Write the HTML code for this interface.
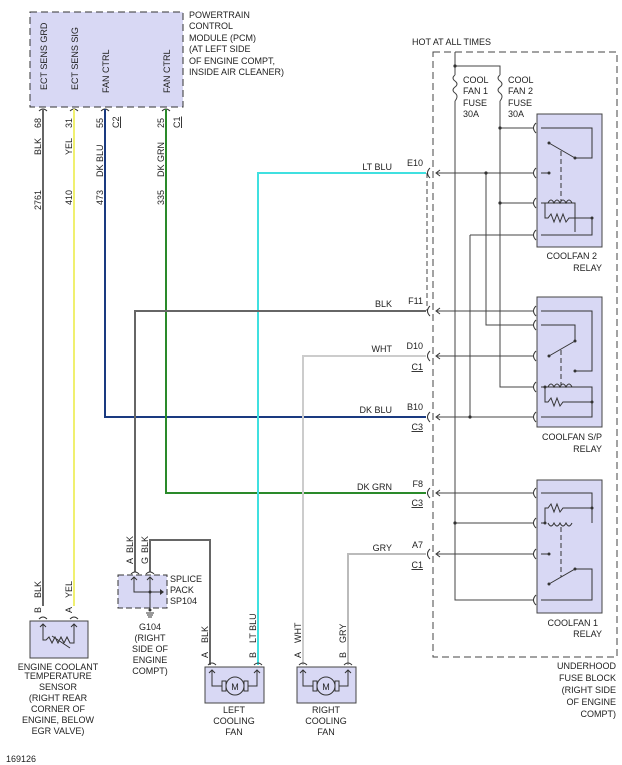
<!DOCTYPE html>
<html><head><style>
html,body{margin:0;padding:0;background:#fff}
svg{display:block}
text{font-family:"Liberation Sans",sans-serif;font-size:9px;fill:#222}
</style></head><body>
<svg width="622" height="765" viewBox="0 0 622 765" xmlns="http://www.w3.org/2000/svg">
<!-- PCM -->
<rect x="30" y="12" width="153" height="95" fill="#d8d8f4" stroke="#333" stroke-dasharray="7,4"/>
<g transform="rotate(-90)">
<text x="-90" y="47">ECT SENS GRD</text>
<text x="-90" y="78">ECT SENS SIG</text>
<text x="-93" y="109">FAN CTRL</text>
<text x="-93" y="170">FAN CTRL</text>
</g>
<text x="189" y="18">POWERTRAIN</text>
<text x="189" y="29">CONTROL</text>
<text x="189" y="41">MODULE (PCM)</text>
<text x="189" y="52">(AT LEFT SIDE</text>
<text x="189" y="64">OF ENGINE COMPT,</text>
<text x="189" y="75">INSIDE AIR CLEANER)</text>
<g fill="none" stroke="#333" stroke-width="1">
<path d="M39,111 q4,-4 8,0 M70,111 q4,-4 8,0 M101,111 q4,-4 8,0 M162,111 q4,-4 8,0"/>
</g>
<!-- wires -->
<g fill="none" stroke-width="2">
<path d="M43,109 V606" stroke="#666"/>
<path d="M74,109 V606" stroke="#f0f070"/>
<path d="M105,109 V417 H426" stroke="#1a3a80"/>
<path d="M166,109 V493 H426" stroke="#2a8a2a"/>
<path d="M258,665 V173 H426" stroke="#40e0e0"/>
<path d="M135,572 V311 H426" stroke="#666"/>
<path d="M303,665 V356 H426" stroke="#ccc"/>
<path d="M348,665 V554 H426" stroke="#bbb"/>
<path d="M150,572 V540 H210 V665" stroke="#666"/>
</g>
<!-- wire labels vertical -->
<g transform="rotate(-90)">
<text x="-128" y="41">68</text><text x="-128" y="72">31</text><text x="-128" y="103">55</text><text x="-128" y="164">25</text>
<text x="-128" y="119" text-decoration="underline">C2</text><text x="-128" y="180" text-decoration="underline">C1</text>
<text x="-155" y="41">BLK</text><text x="-155" y="72">YEL</text><text x="-177" y="103">DK BLU</text><text x="-177" y="164">DK GRN</text>
<text x="-210" y="41">2761</text><text x="-205" y="72">410</text><text x="-205" y="103">473</text><text x="-205" y="164">335</text>
<text x="-613" y="41">B</text><text x="-598" y="41">BLK</text>
<text x="-613" y="72">A</text><text x="-598" y="72">YEL</text>
<text x="-564" y="133">A</text><text x="-553" y="133">BLK</text>
<text x="-564" y="148">G</text><text x="-553" y="148">BLK</text>
<text x="-658" y="208">A</text><text x="-643" y="208">BLK</text>
<text x="-658" y="256">B</text><text x="-643" y="256">LT BLU</text>
<text x="-658" y="301">A</text><text x="-643" y="301">WHT</text>
<text x="-658" y="346">B</text><text x="-643" y="346">GRY</text>
</g>
<!-- right-side connector labels -->
<g text-anchor="end">
<text x="392" y="170">LT BLU</text><text x="423" y="166">E10</text>
<text x="392" y="307">BLK</text><text x="423" y="304">F11</text>
<text x="392" y="352">WHT</text><text x="423" y="349">D10</text><text x="423" y="370" text-decoration="underline">C1</text>
<text x="392" y="413">DK BLU</text><text x="423" y="410">B10</text><text x="423" y="430" text-decoration="underline">C3</text>
<text x="392" y="490">DK GRN</text><text x="423" y="487">F8</text><text x="423" y="506" text-decoration="underline">C3</text>
<text x="392" y="551">GRY</text><text x="423" y="548">A7</text><text x="423" y="568" text-decoration="underline">C1</text>
</g>
<!-- fuse block -->
<rect x="433" y="52" width="184" height="605" fill="none" stroke="#444" stroke-dasharray="7,4"/>
<text x="412" y="45">HOT AT ALL TIMES</text>
<path d="M427,173 V311" stroke="#444" stroke-dasharray="5,3" fill="none"/>
<g fill="none" stroke="#333">
<path d="M430,168 q-5,5 0,10 M430,306 q-5,5 0,10 M430,351 q-5,5 0,10 M430,412 q-5,5 0,10 M430,488 q-5,5 0,10 M430,549 q-5,5 0,10"/>
<path d="M440,170 l-4,3 l4,3 M440,308 l-4,3 l4,3 M440,353 l-4,3 l4,3 M440,414 l-4,3 l4,3 M440,490 l-4,3 l4,3 M440,551 l-4,3 l4,3"/>
</g>
<!-- internal wiring -->
<g fill="none" stroke="#444" stroke-width="1">
<path d="M455,52 V75 M455,101 V600 H533"/>
<path d="M455,66 H500 V75 M500,101 V387 H533"/>
<path d="M455,75 q-4,3 0,6 q4,3 0,6 q-4,3 0,6 q4,3 0,8"/>
<path d="M500,75 q-4,3 0,6 q4,3 0,6 q-4,3 0,6 q4,3 0,8"/>
<path d="M500,128 H533 M500,203 H533"/>
<path d="M436,173 H533 M486,173 V325 H533"/>
<path d="M470,235 H533 M470,235 V417"/>
<path d="M436,311 H533 M436,356 H533 M436,417 H533"/>
<path d="M436,493 H533 M455,523 H533 M436,554 H533"/>
</g>
<g fill="#333">
<circle cx="455" cy="66" r="1.6"/><circle cx="500" cy="128" r="1.6"/><circle cx="486" cy="173" r="1.6"/>
<circle cx="500" cy="203" r="1.6"/><circle cx="470" cy="417" r="1.6"/><circle cx="455" cy="523" r="1.6"/>
</g>
<text x="463" y="83">COOL</text><text x="463" y="94">FAN 1</text><text x="463" y="106">FUSE</text><text x="463" y="117">30A</text>
<text x="508" y="83">COOL</text><text x="508" y="94">FAN 2</text><text x="508" y="106">FUSE</text><text x="508" y="117">30A</text>
<!-- relays -->
<g fill="#d8d8f4" stroke="#444">
<rect x="537" y="114" width="65" height="133"/>
<rect x="537" y="297" width="65" height="130"/>
<rect x="537" y="480" width="65" height="133"/>
</g>
<g fill="none" stroke="#333">
<path d="M536,123 q-5,5 0,10 M536,168 q-5,5 0,10 M536,198 q-5,5 0,10 M536,230 q-5,5 0,10"/>
<path d="M536,306 q-5,5 0,10 M536,320 q-5,5 0,10 M536,351 q-5,5 0,10 M536,382 q-5,5 0,10 M536,412 q-5,5 0,10"/>
<path d="M536,488 q-5,5 0,10 M536,518 q-5,5 0,10 M536,549 q-5,5 0,10 M536,595 q-5,5 0,10"/>
<path d="M541,128 H592 V158 H575 M549,143 L575,158 M541,173 H549 M541,203 H575 V232 M545,203 V218 H548 l3,-4 3,8 3,-8 3,8 3,-8 3,8 3,-4 H592 V235 H541 M548,203 q3,-6 6,0 q3,-6 6,0 q3,-6 6,0 q3,-6 6,0"/>
<path d="M561,151 V201" stroke-dasharray="5,3"/>
<path d="M541,311 H592 V371 H575 M541,325 H575 V341 M549,356 L575,341 M541,387 H592 V417 H541 M545,387 V402 H548 l3,-4 3,8 3,-8 3,8 3,-4 H592 M548,387 q3,-6 6,0 q3,-6 6,0 q3,-6 6,0 q3,-6 6,0"/>
<path d="M561,350 V385" stroke-dasharray="5,3"/>
<path d="M541,493 H592 V523 M545,523 V508 H548 l3,-4 3,8 3,-8 3,8 3,-4 H592 M541,523 H545 M548,523 q3,6 6,0 q3,6 6,0 q3,6 6,0 q3,6 6,0 M541,554 H549 M549,584 L575,569 H592 V600 H541"/>
<path d="M561,527 V577" stroke-dasharray="5,3"/>
</g>
<g fill="#333"><circle cx="549" cy="143" r="1.5"/><circle cx="575" cy="158" r="1.5"/><circle cx="549" cy="173" r="1.5"/><circle cx="592" cy="218" r="1.5"/>
<circle cx="575" cy="341" r="1.5"/><circle cx="549" cy="356" r="1.5"/><circle cx="575" cy="371" r="1.5"/><circle cx="545" cy="387" r="1.5"/><circle cx="592" cy="402" r="1.5"/>
<circle cx="592" cy="508" r="1.5"/><circle cx="545" cy="523" r="1.5"/><circle cx="549" cy="554" r="1.5"/><circle cx="549" cy="584" r="1.5"/><circle cx="575" cy="569" r="1.5"/></g>
<g text-anchor="end">
<text x="597" y="259">COOLFAN 2</text><text x="602" y="271">RELAY</text>
<text x="602" y="440">COOLFAN S/P</text><text x="602" y="452">RELAY</text>
<text x="598" y="626">COOLFAN 1</text><text x="602" y="637">RELAY</text>
<text x="616" y="669">UNDERHOOD</text><text x="616" y="681">FUSE BLOCK</text><text x="616" y="693">(RIGHT SIDE</text><text x="616" y="705">OF ENGINE</text><text x="616" y="717">COMPT)</text>
</g>
<!-- ECT sensor -->
<rect x="30" y="621" width="58" height="37" fill="#d8d8f4" stroke="#444"/>
<g fill="none" stroke="#333"><path d="M39,619 q4,-4 8,0 M70,619 q4,-4 8,0 M43,624 V640 H46 l3,-3 3,6 3,-6 3,6 3,-6 3,6 3,-6 3,6 H74 V624 M40,627 l3,-3 3,3 M71,627 l3,-3 3,3 M52,636 L70,648"/></g>
<g text-anchor="middle">
<text x="58" y="670">ENGINE COOLANT</text><text x="58" y="679">TEMPERATURE</text><text x="58" y="690">SENSOR</text>
<text x="58" y="701">(RIGHT REAR</text><text x="58" y="712">CORNER OF</text><text x="58" y="723">ENGINE, BELOW</text><text x="58" y="734">EGR VALVE)</text>
</g>
<text x="6" y="762">169126</text>
<!-- splice -->
<rect x="118" y="575" width="49" height="33" fill="#d8d8f4" stroke="#333" stroke-dasharray="6,3"/>
<g fill="none" stroke="#333"><path d="M131,574 q4,-4 8,0 M146,574 q4,-4 8,0 M134,577 V592 H160 M150,577 V610 M131,580 l3,-3 3,3 M147,580 l3,-3 3,3 M146,613 H154 M147,615 H153 M148,617 H152"/></g>
<path d="M160,589 L164,592 L160,595Z" fill="#333"/><circle cx="150" cy="592" r="1.5" fill="#333"/><circle cx="150" cy="610" r="1.5" fill="#333"/>
<text x="170" y="582">SPLICE</text><text x="170" y="593">PACK</text><text x="170" y="604">SP104</text>
<g text-anchor="middle"><text x="150" y="630">G104</text><text x="150" y="641">(RIGHT</text><text x="150" y="652">SIDE OF</text><text x="150" y="663">ENGINE</text><text x="150" y="674">COMPT)</text></g>
<!-- fans -->
<g stroke="#444" fill="#d8d8f4"><rect x="205" y="667" width="59" height="36"/><rect x="297" y="667" width="59" height="36"/></g>
<g fill="none" stroke="#333">
<path d="M208,665 q4,-4 8,0 M254,665 q4,-4 8,0 M299,665 q4,-4 8,0 M344,665 q4,-4 8,0"/>
<path d="M212,670 V686 H222 M248,686 H257 V670 M209,673 l3,-3 3,3 M254,673 l3,-3 3,3 M222,681 h4 v10 h-4z M244,681 h4 v10 h-4z"/>
<circle cx="235" cy="686" r="9"/>
<path d="M303,670 V686 H313 M339,686 H348 V670 M300,673 l3,-3 3,3 M345,673 l3,-3 3,3 M313,681 h4 v10 h-4z M335,681 h4 v10 h-4z"/>
<circle cx="326" cy="686" r="9"/>
</g>
<g text-anchor="middle"><text x="235" y="690" font-size="10">M</text><text x="326" y="690" font-size="10">M</text>
<text x="234" y="713">LEFT</text><text x="234" y="724">COOLING</text><text x="234" y="735">FAN</text>
<text x="326" y="713">RIGHT</text><text x="326" y="724">COOLING</text><text x="326" y="735">FAN</text></g>
</svg>
</body></html>
